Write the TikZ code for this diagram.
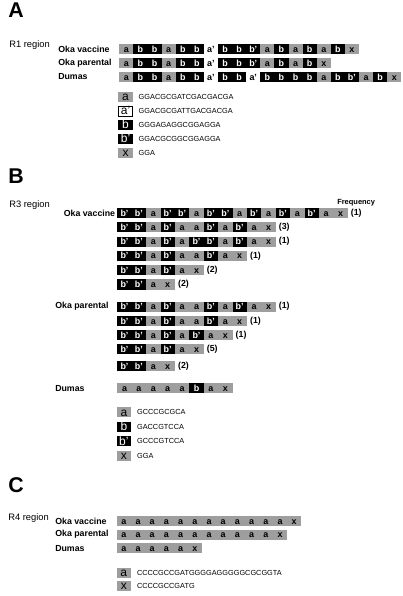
\documentclass[tikz,border=0pt]{standalone}
\usepackage{fontspec}
\setmainfont{Liberation Sans}
\usetikzlibrary{positioning}

\definecolor{cellgray}{gray}{0.62}

% セルの文字
\newcommand{\lbla}{a}
\newcommand{\lblap}{a'}
\newcommand{\lblb}{b}
\newcommand{\lblbp}{b'}
\newcommand{\lblx}{x}

\tikzset{
  seclbl/.style={anchor=west, inner sep=0pt, font=\fontsize{16}{16}\selectfont\bfseries},
  reglbl/.style={anchor=west, inner sep=0pt, font=\fontsize{7}{7}\selectfont},
  namelbl/.style={anchor=west, inner sep=0pt, font=\fontsize{6.6}{6.6}\selectfont\bfseries},
  freqlbl/.style={inner sep=0pt, font=\fontsize{6.6}{6.6}\selectfont\bfseries},
  cellbase/.style={inner sep=0pt, minimum width={\cw*0.75pt}, minimum height=7.6pt,
    text height=4.6pt, text depth=0pt, font=\fontsize{6.7}{6.7}\selectfont\bfseries},
  cell-a/.style={fill=cellgray},
  cell-x/.style={fill=cellgray},
  cell-ap/.style={fill=white},
  cell-b/.style={fill=black, text=white},
  cell-bp/.style={fill=black, text=white},
  legbox/.style={inner sep=0pt, minimum width=10.6pt, minimum height=7.6pt,
    text height=5.6pt, text depth=0pt, font=\fontsize{9}{9}\selectfont},
  leg-a/.style={fill=cellgray},
  leg-x/.style={fill=cellgray},
  leg-ap/.style={fill=white, draw=black, line width=0.4pt},
  leg-b/.style={fill=black, text=white},
  leg-bp/.style={fill=black, text=white},
  legtext/.style={inner sep=0pt, font=\fontsize{5.5}{5.5}\selectfont},
}

% 一列: 名前, x, y, 並び, 頻度
\newcommand{\seqrow}[5]{%
  \foreach \s [count=\i from 0] in {#4} {
    \node (#1-\i) at ({#2+(\i+0.5)*\cw},#3) [cellbase, cell-\s] {\csname lbl\s\endcsname};
    \xdef\lastcell{#1-\i}
  }
  \if\relax\detokenize{#5}\relax\else
    \node (#1-f) [freqlbl, right=2pt of \lastcell] {#5};
  \fi
}

\begin{document}
\begin{tikzpicture}[x=0.75pt,y=-0.75pt]
  \useasboundingbox (0,0) rectangle (403,596);

  % ---- A ----
  \node (secA) at (8,10.5) [seclbl] {A};
  \node (regA) at (9,45) [reglbl] {R1 region};
  \def\cw{14.1}
  \def\xo{119.3}
  \node (nA1) at (58,49) [namelbl] {Oka vaccine};
  \node (nA2) at (58,63) [namelbl] {Oka parental};
  \node (nA3) at (58,77) [namelbl] {Dumas};
  \seqrow{A1}{\xo}{49}{a,b,b,a,b,b,ap,b,b,bp,a,b,a,b,a,b,x}{}
  \seqrow{A2}{\xo}{63}{a,b,b,a,b,b,ap,b,b,bp,a,b,a,b,x}{}
  \seqrow{A3}{\xo}{77}{a,b,b,a,b,b,ap,b,b,ap,b,b,b,b,a,b,bp,a,b,x}{}
  % 凡例
  \foreach \s/\q [count=\k from 0] in {a/GGACGCGATCGACGACGA, ap/GGACGCGATTGACGACGA,
      b/GGGAGAGGCGGAGGA, bp/GGACGCGGCGGAGGA, x/GGA} {
    \node (lgA-\s) at (125.5,{97+\k*13.9}) [legbox, leg-\s] {\csname lbl\s\endcsname};
    \node (lgA-\s-q) [legtext, right=4.2pt of lgA-\s] {\q};
  }

  % ---- B ----
  \node (secB) at (8,176.5) [seclbl] {B};
  \node (regB) at (9,205) [reglbl] {R3 region};
  \node (frq) at (337,203) [anchor=west, inner sep=0pt, font=\fontsize{5.6}{5.6}\selectfont\bfseries] {Frequency};
  \def\cw{14.4}
  \def\xo{117.3}
  \node (nB1) at (63.5,213) [namelbl] {Oka vaccine};
  \seqrow{V1}{\xo}{213}{bp,bp,a,bp,bp,a,bp,bp,a,bp,a,bp,a,bp,a,x}{(1)}
  \seqrow{V2}{\xo}{227.3}{bp,bp,a,bp,a,a,bp,a,bp,a,x}{(3)}
  \seqrow{V3}{\xo}{241.6}{bp,bp,a,bp,a,bp,bp,a,bp,a,x}{(1)}
  \seqrow{V4}{\xo}{255.9}{bp,bp,a,bp,a,a,bp,a,x}{(1)}
  \seqrow{V5}{\xo}{270.2}{bp,bp,a,bp,a,x}{(2)}
  \seqrow{V6}{\xo}{284.5}{bp,bp,a,x}{(2)}
  \node (nB2) at (55,306.7) [namelbl] {Oka parental};
  \seqrow{P1}{\xo}{306.7}{bp,bp,a,bp,a,a,bp,a,bp,a,x}{(1)}
  \seqrow{P2}{\xo}{321}{bp,bp,a,bp,a,a,bp,a,x}{(1)}
  \seqrow{P3}{\xo}{335}{bp,bp,a,bp,a,bp,a,x}{(1)}
  \seqrow{P4}{\xo}{349.3}{bp,bp,a,bp,a,x}{(5)}
  \seqrow{P5}{\xo}{366}{bp,bp,a,x}{(2)}
  \node (nB3) at (55,388.3) [namelbl] {Dumas};
  \seqrow{D1}{\xo}{388.3}{a,a,a,a,a,b,a,x}{}
  % 凡例
  \foreach \s/\q [count=\k from 0] in {a/GCCCGCGCA, b/GACCGTCCA, bp/GCCCGTCCA, x/GGA} {
    \node (lgB-\s) at (123.9,{412.3+\k*14.5}) [legbox, leg-\s] {\csname lbl\s\endcsname};
    \node (lgB-\s-q) [legtext, right=4.2pt of lgB-\s] {\q};
  }

  % ---- C ----
  \node (secC) at (8,485) [seclbl] {C};
  \node (regC) at (8,518) [reglbl] {R4 region};
  \def\cw{14.2}
  \def\xo{116.7}
  \node (nC1) at (55,521) [namelbl] {Oka vaccine};
  \node (nC2) at (55,534.6) [namelbl] {Oka parental};
  \node (nC3) at (55,548.2) [namelbl] {Dumas};
  \seqrow{C1}{\xo}{521}{a,a,a,a,a,a,a,a,a,a,a,a,x}{}
  \seqrow{C2}{\xo}{534.6}{a,a,a,a,a,a,a,a,a,a,a,x}{}
  \seqrow{C3}{\xo}{548.2}{a,a,a,a,a,x}{}
  % 凡例
  \foreach \s/\q [count=\k from 0] in {a/CCCCGCCGATGGGGAGGGGGCGCGGTA, x/CCCCGCCGATG} {
    \node (lgC-\s) at (123.8,{572.7+\k*13.4}) [legbox, leg-\s] {\csname lbl\s\endcsname};
    \node (lgC-\s-q) [legtext, right=4.2pt of lgC-\s] {\q};
  }
\end{tikzpicture}
\end{document}
